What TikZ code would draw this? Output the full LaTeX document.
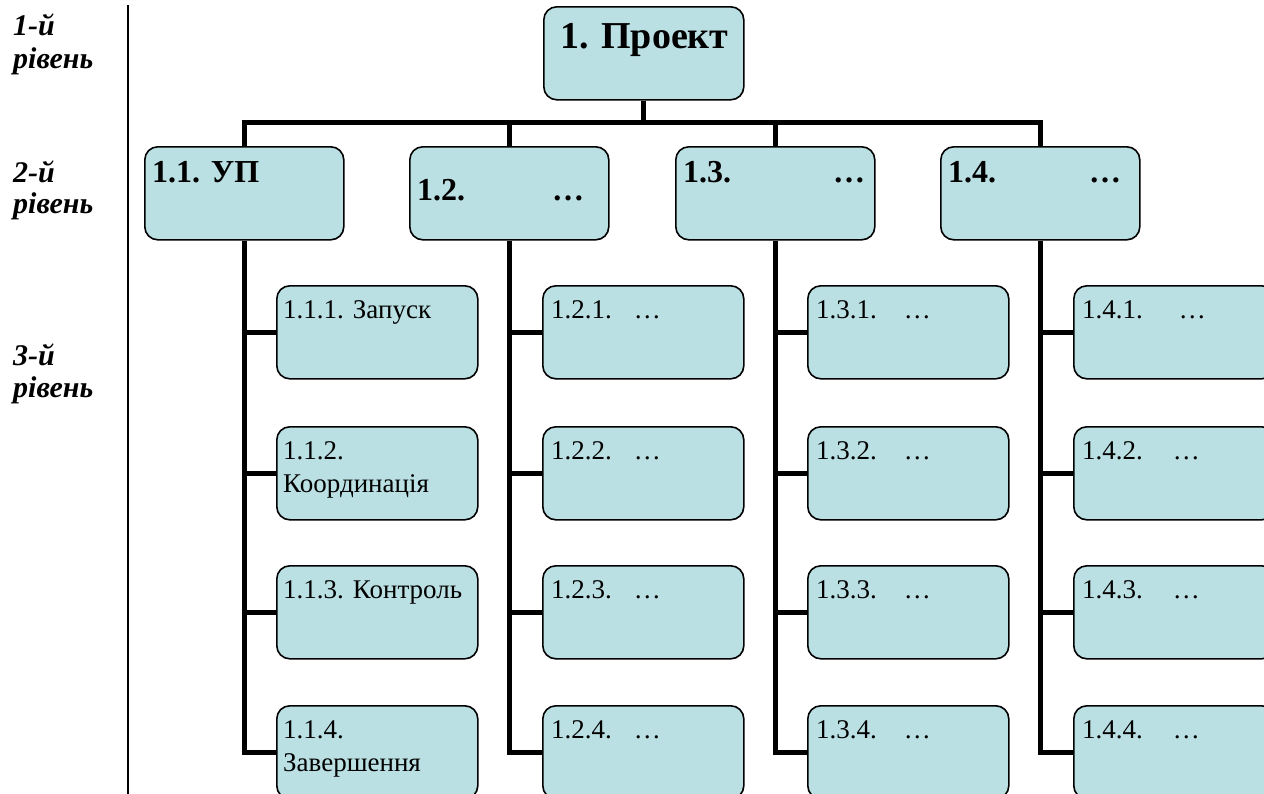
\documentclass[tikz,border=0pt]{standalone}
\usepackage{fontspec}
\setmainfont{Liberation Serif}
\usetikzlibrary{calc}
\definecolor{boxfill}{RGB}{186,224,227}
\begin{document}
\begin{tikzpicture}[x=1pt,y=-1pt,
  box/.style={draw=black, line width=1.6pt, rounded corners=13pt, fill=boxfill,
    minimum width=199pt, minimum height=93pt, inner sep=0pt, anchor=north west},
  kid/.style={box, minimum width=201pt},
  conn/.style={line width=5pt},
  tone/.style={font=\fontsize{38}{45}\selectfont\bfseries, anchor=base west, inner sep=0pt},
  ttwo/.style={font=\fontsize{32}{38}\selectfont\bfseries, anchor=base west, inner sep=0pt},
  tthree/.style={font=\fontsize{27}{33}\selectfont, anchor=base west, inner sep=0pt, align=left},
  lvl/.style={font=\fontsize{30}{32}\selectfont\bfseries\itshape, anchor=base west, inner sep=0pt, align=left}]
\useasboundingbox (0,0) rectangle (1264,793);
\clip (0,0) rectangle (1264,793);
% left separator
\coordinate (sepT) at (128,5);
\coordinate (sepB) at (128,795);
\draw[line width=2pt] (sepT) -- (sepB);
% level labels (anchored at the baseline of their last line)
\node[lvl] (L1) at (13,68) {1-й\\[1pt]рівень};
\node[lvl] (L2) at (13,213) {2-й\\[-1pt]рівень};
\node[lvl] (L3) at (13,397) {3-й\\рівень};
% level 1
\node[box, minimum width=200pt] (p) at (543,6) {};
\node[tone] (pt) at (560,48) {1. Проект};
% level 2
\node[box] (b11) at (144,146) {};
\node[box] (b12) at (409,146) {};
\node[box] (b13) at (675,146) {};
\node[box] (b14) at (940,146) {};
\node[ttwo] (t11) at (152,182) {1.1. УП};
\node[ttwo] (t12) at (417,200) {1.2.};
\node[ttwo] (d12) at (552,200) {…};
\node[ttwo] (t13) at (683,182) {1.3.};
\node[ttwo] (d13) at (833,182) {…};
\node[ttwo] (t14) at (948,182) {1.4.};
\node[ttwo] (d14) at (1089,182) {…};
% level 3 boxes
\foreach \c/\x in {1/276,2/542,3/807,4/1073}{
  \foreach \r/\y in {1/285,2/426,3/565,4/705}{
    \node[kid] (c\c\r) at (\x,\y) {};
  }
}
% level 3 texts
\node[tthree] (k111) at ($(c11.north west)+(7,33)$) {1.1.1. Запуск};
\node[tthree] (k112) at ($(c12.north west)+(7,66)$) {1.1.2.\\Координація};
\node[tthree] (k113) at ($(c13.north west)+(7,33)$) {1.1.3. Контроль};
\node[tthree] (k114) at ($(c14.north west)+(7,66)$) {1.1.4.\\Завершення};
\foreach \r in {1,2,3,4}{
  \node[tthree] (k12\r) at ($(c2\r.north west)+(9,33)$) {1.2.\r.\hspace{22pt}…};
  \node[tthree] (k13\r) at ($(c3\r.north west)+(9,33)$) {1.3.\r.\hspace{27pt}…};
}
\node[tthree] (k141) at ($(c41.north west)+(9,33)$) {1.4.1.\hspace{36pt}…};
\foreach \r in {2,3,4}{
  \node[tthree] (k14\r) at ($(c4\r.north west)+(9,33)$) {1.4.\r.\hspace{30pt}…};
}
% connectors level 1 -> 2
\coordinate (bus) at (0,122);
\draw[conn] (p.south) -- (p.south |- bus);
\draw[conn] (b11.north) -- (b11.north |- bus) -| (b14.north);
\draw[conn] (b12.north) -- (b12.north |- bus);
\draw[conn] (b13.north) -- (b13.north |- bus);
% connectors level 2 -> 3
\foreach \c in {1,2,3,4}{
  \draw[conn] (b1\c.south) |- (c\c4.west);
  \foreach \r in {1,2,3}{
    \draw[conn] (b1\c.south |- c\c\r.west) -- (c\c\r.west);
  }
}
\end{tikzpicture}
\end{document}
